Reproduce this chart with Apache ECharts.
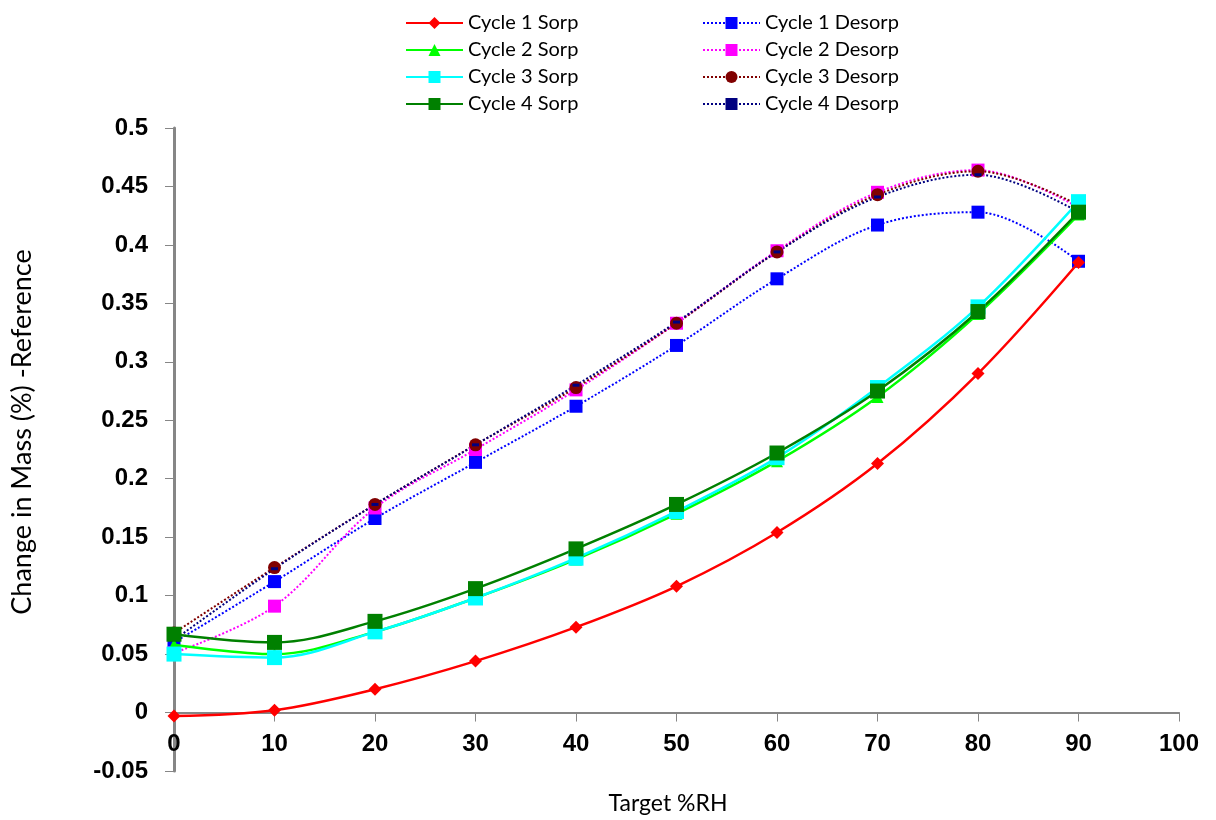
<!DOCTYPE html>
<html>
<head>
<meta charset="utf-8">
<script src="https://cdn.jsdelivr.net/npm/echarts@6/dist/echarts.min.js"></script>
<style>
html,body{margin:0;padding:0;background:#fff;}
#chart{width:1216px;height:820px;}
</style>
</head>
<body>
<div id="chart"></div>
<script>
// Target %RH
const rh = [0, 10, 20, 30, 40, 50, 60, 70, 80, 90];
// Sorption cycles
const cycle1Sorp = [-0.003, 0.002, 0.020, 0.044, 0.073, 0.108, 0.154, 0.213, 0.290, 0.385];
const cycle2Sorp = [0.058, 0.050, 0.069, 0.098, 0.131, 0.170, 0.215, 0.270, 0.341, 0.426];
const cycle3Sorp = [0.050, 0.047, 0.069, 0.098, 0.132, 0.172, 0.218, 0.278, 0.347, 0.437];
const cycle4Sorp = [0.067, 0.060, 0.078, 0.106, 0.140, 0.178, 0.222, 0.275, 0.343, 0.428];
// Desorption cycles
const cycle1Desorp = [0.060, 0.112, 0.166, 0.214, 0.262, 0.314, 0.371, 0.417, 0.428, 0.386];
const cycle2Desorp = [0.051, 0.091, 0.175, 0.225, 0.276, 0.333, 0.395, 0.445, 0.464, 0.432];
const cycle3Desorp = [0.068, 0.124, 0.178, 0.229, 0.278, 0.333, 0.394, 0.443, 0.463, 0.434];
const cycle4Desorp = [0.062, 0.123, 0.178, 0.229, 0.280, 0.334, 0.394, 0.441, 0.460, 0.428];

const sorpNames = ['Cycle 1 Sorp', 'Cycle 2 Sorp', 'Cycle 3 Sorp', 'Cycle 4 Sorp'];
const desorpNames = ['Cycle 1 Desorp', 'Cycle 2 Desorp', 'Cycle 3 Desorp', 'Cycle 4 Desorp'];
const yTitle = 'Change in Mass (%) -Reference';
const xTitle = 'Target %RH';

const yMin = -0.05, yMax = 0.5;
const gridTop = 128, gridHeight = 643;

const pair = arr => rh.map((x, i) => [x, arr[i]]);

function sorp(name, data, color, symbol, size) {
  return {
    name, type: 'line', data: pair(data), smooth: 0.35,
    symbol, symbolSize: size,
    lineStyle: { color, width: 2.5, type: 'solid' },
    itemStyle: { color },
    z: 3
  };
}
function desorp(name, data, color, symbol, size) {
  return {
    name, type: 'line', data: pair(data), smooth: 0.35,
    symbol, symbolSize: size,
    lineStyle: { color, width: 2, type: [2, 2] },
    itemStyle: { color },
    z: 2
  };
}

// x axis line sits at y = 0
const zeroOffset = -(0 - yMin) / (yMax - yMin) * gridHeight;

const chart = echarts.init(document.getElementById('chart'));
const labelFont = { fontFamily: 'Liberation Sans', fontWeight: 'bold', fontSize: 24, color: '#000' };
const legendText = { fontFamily: 'Lato', fontSize: 20, color: '#000' };
chart.setOption({
  animation: false,
  backgroundColor: '#fff',
  grid: { left: 174, right: 37, top: gridTop, height: gridHeight, containLabel: false },
  legend: [
    { data: sorpNames, orient: 'vertical', left: 400, top: 8, itemWidth: 57, itemHeight: 15, itemGap: 7, textStyle: legendText },
    { data: desorpNames, orient: 'vertical', left: 697, top: 8, itemWidth: 57, itemHeight: 15, itemGap: 7, textStyle: legendText }
  ],
  xAxis: {
    type: 'value', min: 0, max: 100, interval: 10, offset: zeroOffset,
    axisLine: { onZero: false, lineStyle: { color: '#868686', width: 2 } },
    axisTick: { show: true, length: 9, lineStyle: { color: '#868686', width: 1 } },
    axisLabel: Object.assign({ margin: 20 }, labelFont),
    splitLine: { show: false }
  },
  yAxis: {
    type: 'value', min: yMin, max: yMax, interval: 0.05,
    axisLine: { show: true, onZero: false, lineStyle: { color: '#868686', width: 3 } },
    axisTick: { show: true, length: 9, lineStyle: { color: '#868686', width: 1 } },
    axisLabel: Object.assign({ margin: 26, formatter: v => String(+v.toFixed(2)) }, labelFont),
    splitLine: { show: false }
  },
  graphic: [
    { type: 'text', x: 22, y: 432, rotation: Math.PI / 2,
      style: { text: yTitle, font: '27px Lato', fill: '#000', textAlign: 'center', textVerticalAlign: 'middle' } },
    { type: 'text', x: 668, y: 804,
      style: { text: xTitle, font: '23px Lato', fill: '#000', textAlign: 'center', textVerticalAlign: 'middle' } }
  ],
  series: [
    desorp(desorpNames[0], cycle1Desorp, '#0000FF', 'rect', 13),
    desorp(desorpNames[1], cycle2Desorp, '#FF00FF', 'rect', 13),
    desorp(desorpNames[2], cycle3Desorp, '#800000', 'circle', 13),
    desorp(desorpNames[3], cycle4Desorp, '#000080', 'rect', [7, 3]),
    sorp(sorpNames[0], cycle1Sorp, '#FF0000', 'diamond', 13),
    sorp(sorpNames[1], cycle2Sorp, '#00FF00', 'triangle', 12),
    sorp(sorpNames[2], cycle3Sorp, '#00FFFF', 'rect', 15),
    sorp(sorpNames[3], cycle4Sorp, '#008000', 'rect', 15)
  ]
});
</script>
</body>
</html>
